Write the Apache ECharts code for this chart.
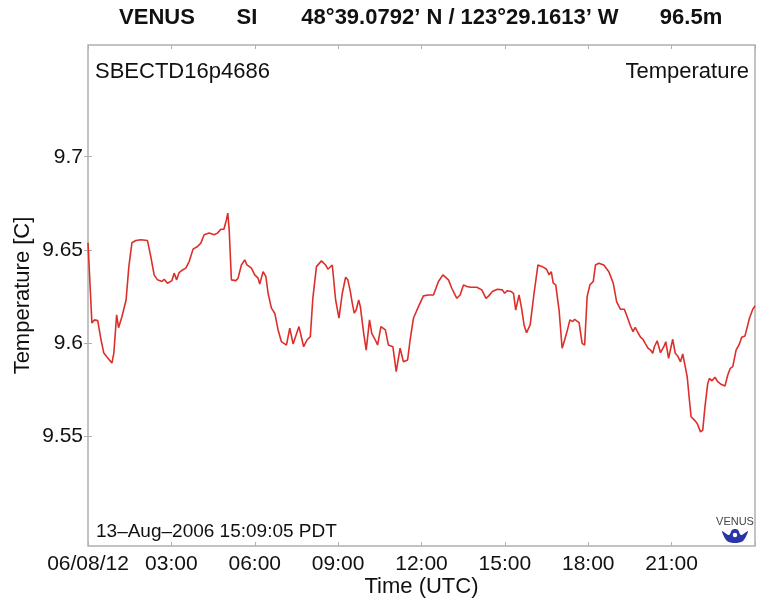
<!DOCTYPE html>
<html>
<head>
<meta charset="utf-8">
<script src="https://cdn.jsdelivr.net/npm/echarts@6/dist/echarts.min.js"></script>
<style>
html,body{margin:0;padding:0;background:#fff;}
#chart{width:757px;height:605px;}
</style>
</head>
<body>
<div id="chart"></div>
<script>
// Hours since 2006-08-12 00:00 UTC
const hours = [0.00,0.14,0.23,0.35,0.47,0.57,0.71,0.86,0.93,1.03,1.10,1.22,1.37,1.47,1.58,1.72,1.90,2.14,2.26,2.38,2.50,2.66,2.74,2.86,3.02,3.10,3.19,3.28,3.40,3.52,3.64,3.78,3.94,4.06,4.18,4.36,4.54,4.66,4.78,
4.89,4.98,5.03,5.08,5.16,5.32,5.40,5.52,5.64,5.72,5.88,6.00,6.12,6.18,6.30,6.40,6.48,6.60,6.72,6.84,6.96,7.14,7.26,7.38,7.59,7.76,7.88,8.00,8.09,8.22,8.40,8.55,8.63,8.79,8.91,9.03,9.15,9.27,9.35,9.44,9.51,9.58,
9.65,9.74,9.80,9.92,10.01,10.13,10.21,10.34,10.42,10.54,10.70,10.81,10.97,11.09,11.23,11.35,11.50,11.59,11.71,11.89,12.07,12.25,12.43,12.61,12.77,12.97,13.09,13.27,13.39,13.51,13.63,13.77,13.99,14.17,14.32,14.42,
14.55,14.73,14.91,14.99,15.09,15.23,15.31,15.39,15.51,15.60,15.69,15.78,15.91,16.05,16.19,16.35,16.50,16.59,16.67,16.74,16.83,16.95,17.06,17.15,17.25,17.34,17.44,17.51,17.67,17.78,17.87,17.96,18.06,18.18,18.26,18.38,18.56,18.74,18.90,19.02,19.16,
19.30,19.40,19.52,19.61,19.69,19.79,19.88,19.97,20.05,20.15,20.24,20.32,20.38,20.48,20.60,20.72,20.79,20.89,20.98,21.04,21.13,21.22,21.32,21.40,21.46,21.56,21.64,21.70,21.82,21.92,22.04,22.12,22.20,22.30,22.36,22.45,22.56,22.66,22.78,22.92,23.02,23.11,23.20,23.32,23.44,23.52,23.64,23.71,23.80,23.92,24.00];

// Temperature [C]
const temps = [9.6538,9.6108,9.6124,9.6120,9.6016,9.5946,9.5919,9.5892,9.5946,9.6151,9.6082,9.6141,9.6231,9.6410,9.6538,9.6550,9.6554,9.6550,9.6464,9.6366,9.6339,9.6330,9.6342,9.6321,9.6335,9.6375,9.6339,9.6378,9.6392,9.6402,9.6437,9.6504,9.6518,9.6536,9.6581,9.6590,9.6581,9.6590,9.6611,
9.6611,9.6661,9.6697,9.6608,9.6339,9.6335,9.6348,9.6419,9.6446,9.6419,9.6402,9.6366,9.6348,9.6317,9.6383,9.6356,9.6267,9.6187,9.6160,9.6070,9.6007,9.5989,9.6079,9.5995,9.6088,9.5980,9.6016,9.6034,9.6240,9.6410,9.6441,9.6419,9.6396,9.6419,9.6231,9.6133,9.6267,9.6353,9.6339,9.6276,9.6213,9.6160,
9.6177,9.6231,9.6195,9.6052,9.5962,9.6124,9.6052,9.6016,9.5989,9.6088,9.6070,9.5989,9.5980,9.5846,9.5972,9.5899,9.5909,9.6016,9.6133,9.6195,9.6253,9.6258,9.6258,9.6330,9.6366,9.6339,9.6294,9.6240,9.6258,9.6312,9.6303,9.6299,9.6299,9.6285,9.6240,9.6253,
9.6276,9.6289,9.6285,9.6267,9.6281,9.6276,9.6267,9.6177,9.6258,9.6187,9.6097,9.6055,9.6097,9.6267,9.6419,9.6410,9.6396,9.6366,9.6383,9.6321,9.6312,9.6177,9.5972,9.6016,9.6070,9.6124,9.6115,9.6127,9.6109,9.5998,9.5989,9.6249,9.6312,9.6330,9.6419,9.6428,9.6419,9.6383,9.6321,9.6222,9.6181,
9.6181,9.6141,9.6091,9.6061,9.6084,9.6055,9.6031,9.6020,9.5998,9.5972,9.5962,9.5945,9.5980,9.6012,9.5948,9.5980,9.6007,9.5918,9.5980,9.6020,9.5945,9.5930,9.5899,9.5941,9.5935,9.5819,9.5694,9.5604,9.5586,9.5568,9.5523,9.5532,9.5658,9.5783,9.5810,9.5797,9.5816,9.5792,9.5778,9.5769,9.5828,9.5864,9.5873,9.5962,9.5995,9.6031,9.6038,9.6038,9.6133,9.6181,9.6199];

const xTickLabels = ['06/08/12','03:00','06:00','09:00','12:00','15:00','18:00','21:00',''];
const yTicks = [9.55, 9.6, 9.65, 9.7];
const yTickLabels = ['9.55', '9.6', '9.65', '9.7'];

const titleParts = ['VENUS', 'SI', '48°39.0792’ N / 123°29.1613’ W', '96.5m'];
const instrumentLabel = 'SBECTD16p4686';
const variableLabel = 'Temperature';
const stampLabel = '13–Aug–2006 15:09:05 PDT';

const FONT = '"Liberation Sans", Arial, Helvetica, sans-serif';
const TXT = '#111111';
const FRAME = '#b0b0b0';

const chart = echarts.init(document.getElementById('chart'), null, {renderer: 'canvas'});
const data = hours.map((h, i) => [h, temps[i]]);

const grid = {left: 88, right: 2, top: 45, bottom: 59, show: true, borderColor: FRAME, borderWidth: 1.5, backgroundColor: '#fff', containLabel: false, outerBoundsMode: 'none'};
const Y_MIN = 9.491, Y_MAX = 9.760;

const titleCenters = [157, 247, 460, 691];

chart.setOption({
  animation: false,
  backgroundColor: '#fff',
  grid: grid,
  xAxis: [{
    type: 'value', min: 0, max: 24, interval: 3, position: 'bottom',
    axisLine: {show: false},
    axisTick: {show: true, inside: true, length: 4, lineStyle: {color: FRAME}},
    splitLine: {show: false},
    axisLabel: {
      color: TXT, fontFamily: FONT, fontSize: 21, margin: 8,
      formatter: v => xTickLabels[Math.round(v / 3)] || ''
    },
    name: 'Time (UTC)', nameLocation: 'middle', nameGap: 30, nameMoveOverlap: false,
    nameTextStyle: {color: TXT, fontFamily: FONT, fontSize: 22}
  }, {
    type: 'value', min: 0, max: 24, interval: 3, position: 'top',
    axisLine: {show: false},
    axisTick: {show: true, inside: true, length: 4, lineStyle: {color: FRAME}},
    axisLabel: {show: false}, splitLine: {show: false}
  }],
  yAxis: [{
    type: 'value', min: Y_MIN, max: Y_MAX, position: 'left',
    axisLine: {show: false},
    axisTick: {show: true, inside: true, length: 4, lineStyle: {color: FRAME}, customValues: yTicks},
    splitLine: {show: false},
    axisLabel: {
      color: TXT, fontFamily: FONT, fontSize: 21, margin: 5,
      customValues: yTicks,
      formatter: v => { const i = yTicks.findIndex(t => Math.abs(t - v) < 1e-6); return i >= 0 ? yTickLabels[i] : ''; }
    },
    name: 'Temperature [C]', nameLocation: 'middle', nameGap: 54, nameRotate: 90, nameMoveOverlap: false,
    nameTextStyle: {color: TXT, fontFamily: FONT, fontSize: 22}
  }, {
    type: 'value', min: Y_MIN, max: Y_MAX, position: 'right',
    axisLine: {show: false},
    axisTick: {show: true, inside: true, length: 4, lineStyle: {color: FRAME}, customValues: yTicks},
    axisLabel: {show: false}, splitLine: {show: false}
  }],
  series: [{
    type: 'line', data: data, xAxisIndex: 0, yAxisIndex: 0,
    showSymbol: false, symbol: 'none',
    lineStyle: {color: '#dc2f2a', width: 1.6},
    z: 3
  }],
  graphic: [
    ...titleParts.map((t, i) => ({
      type: 'text', x: titleCenters[i], y: 18,
      style: {text: t, fill: TXT, font: 'bold 22px ' + FONT, textAlign: 'center', textVerticalAlign: 'middle'}
    })),
    {type: 'text', x: 95, y: 72, style: {text: instrumentLabel, fill: TXT, font: '22px ' + FONT, textAlign: 'left', textVerticalAlign: 'middle'}, z: 10},
    {type: 'text', x: 749, y: 72, style: {text: variableLabel, fill: TXT, font: '22px ' + FONT, textAlign: 'right', textVerticalAlign: 'middle'}, z: 10},
    {type: 'text', x: 96, y: 532, style: {text: stampLabel, fill: TXT, font: '19px ' + FONT, textAlign: 'left', textVerticalAlign: 'middle'}, z: 10},
    {type: 'text', x: 735, y: 522, style: {text: 'VENUS', fill: '#444', font: '11px ' + FONT, textAlign: 'center', textVerticalAlign: 'middle'}, z: 10},
    {type: 'polygon', z: 10, shape: {points: [[722,531],[727,541],[735,543],[743,541],[748,531],[741,535],[738,530],[735,529],[732,530],[729,535]], smooth: 0.3}, style: {fill: '#2a36a8'}},
    {type: 'circle', z: 11, shape: {cx: 735, cy: 535, r: 2.2}, style: {fill: '#ffffff'}}
  ]
});
</script>
</body>
</html>
